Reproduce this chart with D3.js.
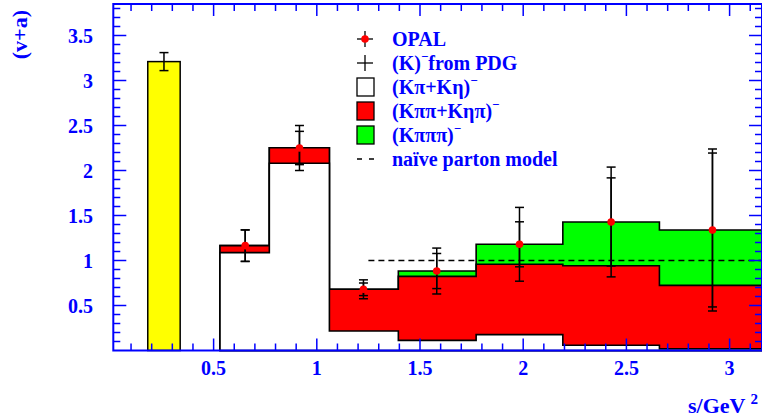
<!DOCTYPE html>
<html>
<head>
<meta charset="utf-8">
<script src="https://cdn.jsdelivr.net/npm/d3@7"></script>
<style>
  body { margin: 0; background: #fff; }
  svg { display: block; }
  text { font-family: "Liberation Serif", "DejaVu Serif", serif; font-weight: bold; }
</style>
</head>
<body>
<svg id="chart" width="762" height="418"></svg>
<script>
// histogram bins (s in GeV^2)
var binEdges = [0.531, 0.77, 1.061, 1.395, 1.772, 2.192, 2.66, 3.157]
var kpiKeta = [1.087, 2.08, 0.217, 0.113, 0.176, 0.058, 0.02]        // white
var kpipiKetapi = [0.078, 0.173, 0.463, 0.711, 0.782, 0.884, 0.704]  // red
var kpipipi = [0, 0, 0, 0.059, 0.222, 0.486, 0.615]                  // green

// K- from PDG (yellow bar)
var kaonBin = [0.181, 0.338]
var kaonValue = 3.21
var kaonErr = 0.1

// OPAL points
var opalX = [0.653, 0.916, 1.226, 1.581, 1.982, 2.426, 2.917]
var opalY = [1.165, 2.25, 0.68, 0.883, 1.18, 1.428, 1.339]
var opalStat = [0.175, 0.185, 0.07, 0.195, 0.25, 0.49, 0.855]
var opalTot = [0.175, 0.25, 0.105, 0.255, 0.41, 0.61, 0.9]

var partonStart = 1.25, partonValue = 1

var xMajor = [0.5, 1, 1.5, 2, 2.5, 3]
var xLabels = ["0.5", "1", "1.5", "2", "2.5", "3"]
var yMajor = [0.5, 1, 1.5, 2, 2.5, 3, 3.5]
var yLabels = ["0.5", "1", "1.5", "2", "2.5", "3", "3.5"]

var blue = "#0000ff"
var svg = d3.select("#chart")

var x = d3.scaleLinear().domain([0.014, 3.157]).range([113.3, 762])
var y = d3.scaleLinear().domain([0, 3.85]).range([350.5, 4])

// stacked cumulative histograms
var cumRed = kpiKeta.map(function(d, i) { return d + kpipiKetapi[i] })
var cumGreen = cumRed.map(function(d, i) { return d + kpipipi[i] })

function stepPoints(vals) {
    var pts = [[binEdges[0], 0]]
    vals.forEach(function(v, i) {
        pts.push([binEdges[i], v])
        pts.push([binEdges[i + 1], v])
    })
    pts.push([binEdges[binEdges.length - 1], 0])
    return pts
}
var line = d3.line().x(function(d) { return x(d[0]) }).y(function(d) { return y(d[1]) })

var hists = [
    {vals: cumGreen, fill: "#00ff00"},
    {vals: cumRed, fill: "#ff0000"},
    {vals: kpiKeta, fill: "#ffffff"}
]
svg.selectAll("path.hist")
    .data(hists)
    .join("path")
    .attr("class", "hist")
    .attr("d", function(d) { return line(stepPoints(d.vals)) + "Z" })
    .attr("fill", function(d) { return d.fill })
    .attr("stroke", "#000")
    .attr("stroke-width", 1.6)

// yellow kaon bar
svg.append("rect")
    .attr("x", x(kaonBin[0]))
    .attr("y", y(kaonValue))
    .attr("width", x(kaonBin[1]) - x(kaonBin[0]))
    .attr("height", y(0) - y(kaonValue))
    .attr("fill", "#ffff00")
    .attr("stroke", "#000")
    .attr("stroke-width", 1.5)

// naive parton model
svg.append("line")
    .attr("x1", x(partonStart)).attr("x2", x(3.157))
    .attr("y1", y(partonValue)).attr("y2", y(partonValue))
    .attr("stroke", "#000").attr("stroke-width", 1.5)
    .attr("stroke-dasharray", "6,4")

// error bars
function errBar(g, cx, cy, err, capW) {
    g.append("line").attr("x1", cx).attr("x2", cx)
        .attr("y1", y(cy + err)).attr("y2", y(cy - err))
    ;[cy + err, cy - err].forEach(function(v) {
        g.append("line").attr("x1", cx - capW).attr("x2", cx + capW)
            .attr("y1", y(v)).attr("y2", y(v))
    })
}
var eg = svg.append("g").attr("stroke", "#000").attr("stroke-width", 1.5)
errBar(eg, x((kaonBin[0] + kaonBin[1]) / 2), kaonValue, kaonErr, 4.5)
opalX.forEach(function(d, i) {
    errBar(eg, x(d), opalY[i], opalTot[i], 4.5)
    errBar(eg, x(d), opalY[i], opalStat[i], 4.5)
})
svg.selectAll("circle.opal")
    .data(opalX)
    .join("circle")
    .attr("class", "opal")
    .attr("cx", function(d) { return x(d) })
    .attr("cy", function(d, i) { return y(opalY[i]) })
    .attr("r", 3.8)
    .attr("fill", "#ff0000")

// axes frame with ticks
var ax = svg.append("g").attr("stroke", blue)
var xMinor = d3.range(1, 32).map(function(d) { return d / 10 })
var yMinor = d3.range(1, 39).map(function(d) { return d / 10 })
function isMajor(v) { return Math.abs(v * 2 - Math.round(v * 2)) < 1e-6 }
xMinor.forEach(function(v) {
    var len = isMajor(v) ? 12 : 7
    ax.append("line").attr("x1", x(v)).attr("x2", x(v))
        .attr("y1", y(0)).attr("y2", y(0) - len).attr("stroke-width", 1.5)
    ax.append("line").attr("x1", x(v)).attr("x2", x(v))
        .attr("y1", y(3.85)).attr("y2", y(3.85) + len).attr("stroke-width", 1.5)
})
yMinor.forEach(function(v) {
    var len = isMajor(v) ? 13 : 7
    ax.append("line").attr("x1", x(0.014)).attr("x2", x(0.014) + len)
        .attr("y1", y(v)).attr("y2", y(v)).attr("stroke-width", 1.5)
    ax.append("line").attr("x1", 762).attr("x2", 762 - len)
        .attr("y1", y(v)).attr("y2", y(v)).attr("stroke-width", 1.5)
})
ax.append("rect")
    .attr("x", x(0.014)).attr("y", y(3.85))
    .attr("width", x(3.157) - x(0.014)).attr("height", y(0) - y(3.85))
    .attr("fill", "none").attr("stroke-width", 2)

// tick labels
svg.selectAll("text.xl")
    .data(xMajor)
    .join("text")
    .attr("class", "xl")
    .attr("x", function(d) { return x(d) })
    .attr("y", 375)
    .attr("text-anchor", "middle")
    .attr("font-size", 20)
    .attr("fill", blue)
    .text(function(d, i) { return xLabels[i] })
svg.selectAll("text.yl")
    .data(yMajor)
    .join("text")
    .attr("class", "yl")
    .attr("x", 93)
    .attr("y", function(d) { return y(d) + 7 })
    .attr("text-anchor", "end")
    .attr("font-size", 20)
    .attr("fill", blue)
    .text(function(d, i) { return yLabels[i] })

// axis titles
svg.append("text")
    .attr("transform", "translate(27,10) rotate(-90)")
    .attr("text-anchor", "end")
    .attr("font-size", 22)
    .attr("fill", blue)
    .text("(v+a)")
var xt = svg.append("text")
    .attr("x", 688).attr("y", 413)
    .attr("font-size", 22)
    .attr("fill", blue)
xt.append("tspan").text("s/GeV")
xt.append("tspan").attr("dx", 5).attr("dy", -9).attr("font-size", 15).text("2")

// legend
var legendRows = [
    {type: "opal", parts: [["OPAL"]]},
    {type: "pdg", parts: [["(K)"], ["−", true], ["from PDG"]]},
    {type: "box", fill: "#ffffff", parts: [["(Kπ+Kη)"], ["−", true]]},
    {type: "box", fill: "#ff0000", parts: [["(Kππ+Kηπ)"], ["−", true]]},
    {type: "box", fill: "#00ff00", parts: [["(Kπππ)"], ["−", true]]},
    {type: "dash", parts: [["naïve parton model"]]}
]
var lg = svg.append("g")
legendRows.forEach(function(r, i) {
    var cy = 39 + i * 24
    if (r.type == "opal" || r.type == "pdg") {
        lg.append("line").attr("x1", 357).attr("x2", 373).attr("y1", cy).attr("y2", cy)
            .attr("stroke", "#000").attr("stroke-width", 1.3)
        lg.append("line").attr("x1", 365).attr("x2", 365).attr("y1", cy - 8).attr("y2", cy + 8)
            .attr("stroke", "#000").attr("stroke-width", 1.3)
        if (r.type == "opal") lg.append("circle").attr("cx", 365).attr("cy", cy).attr("r", 3.8).attr("fill", "#ff0000")
    } else if (r.type == "box") {
        lg.append("rect").attr("x", 357).attr("y", cy - 9).attr("width", 17).attr("height", 18)
            .attr("fill", r.fill).attr("stroke", "#000").attr("stroke-width", 1.3)
    } else {
        lg.append("line").attr("x1", 357).attr("x2", 374).attr("y1", cy).attr("y2", cy)
            .attr("stroke", "#000").attr("stroke-width", 1.3).attr("stroke-dasharray", "5,7")
    }
    var t = lg.append("text").attr("x", 392).attr("y", cy + 7)
        .attr("font-size", 20).attr("fill", blue)
    r.parts.forEach(function(p, j) {
        var ts = t.append("tspan").text(p[0])
        if (p[1]) ts.attr("dy", -9).attr("font-size", 13)
        else if (j > 0) ts.attr("dy", 9)
    })
})
</script>
</body>
</html>
